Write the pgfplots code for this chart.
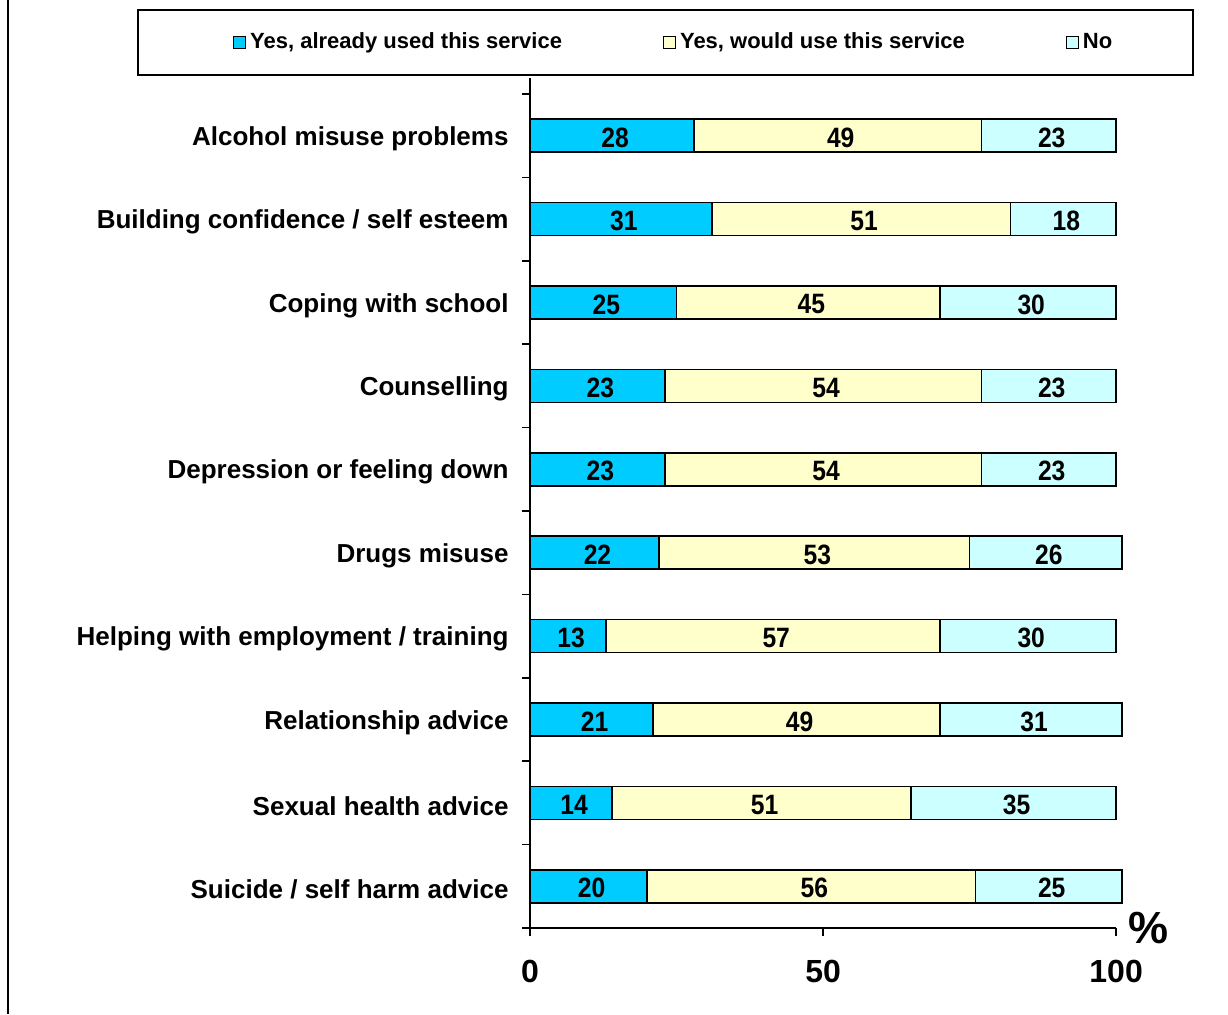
\documentclass[border=0pt]{standalone}
\usepackage{pgfplots}
\pgfplotsset{compat=1.18}
\usepackage{pgfplotstable}
\usepackage{fontspec}
\setmainfont{Liberation Sans}
\newfontfamily\numfont[FakeStretch=0.88]{Liberation Sans}
\definecolor{cBlue}{HTML}{00CCFF}
\definecolor{cYel}{HTML}{FFFFCC}
\definecolor{cCyan}{HTML}{CCFFFF}
\pgfplotstableread{
idx a b c
9 28 49 23
8 31 51 18
7 25 45 30
6 23 54 23
5 23 54 23
4 22 53 26
3 13 57 30
2 21 49 31
1 14 51 35
0 20 56 25
}\datatable
\pgfplotsset{sqleg/.style={legend image code/.code={\draw[##1,draw=black,line width=0.5pt] (0pt,-3pt) rectangle (6pt,3pt);}}}
\begin{document}
\begin{tikzpicture}
\path[use as bounding box] (0,0) rectangle (614pt,507pt);
\draw[line width=1pt] (4pt,0) -- (4pt,507pt);
\draw[line width=1pt] (69pt,469.5pt) rectangle (596.5pt,502pt);
\begin{axis}[
  at={(265pt,43pt)}, anchor=south west,
  scale only axis, width=296pt, height=417pt,
  xbar stacked, bar width=16.5pt,
  xmin=0, xmax=101, ymin=-0.5, ymax=9.5,
  clip=false,
  axis x line*=bottom, axis y line*=left,
  axis line style={draw=none},
  tick align=outside,
  major tick length=4pt,
  every tick/.style={black, line width=0.8pt},
  xtick={0,50,100},
  xticklabel style={font=\fontsize{16}{17}\selectfont\bfseries, yshift=-8.5pt},
  ytick={-0.5,0.5,...,9.5},
  yticklabels={},
  extra y ticks={0,1,2,3,4,5,6,7,8,9},
  extra y tick labels={Suicide / self harm advice, Sexual health advice, Relationship advice, Helping with employment / training, Drugs misuse, Depression or feeling down, Counselling, Coping with school, Building confidence / self esteem, Alcohol misuse problems},
  extra y tick style={major tick length=0pt},
  yticklabel style={font=\fontsize{13}{14}\selectfont\bfseries, xshift=-7.2pt, yshift=-1.5pt},
  /pgf/number format/assume math mode=true,
  point meta=explicit symbolic,
  nodes near coords={\pgfplotspointmeta},
  every node near coord/.append style={font=\numfont\fontsize{14}{15}\selectfont\bfseries, black, anchor=center, yshift=-1pt, xshift=1.5pt},
  legend columns=3,
  legend style={at={(0.2445,1.0617)}, anchor=center, draw=none, fill=none,
    font=\fontsize{11}{12}\selectfont\bfseries,
    /tikz/every even column/.append style={column sep=48.5pt}},
]
\addplot[fill=cBlue, draw=black, line width=0.8pt, sqleg] table[x=a,y=idx,meta=a]{\datatable};
\addplot[fill=cYel, draw=black, line width=0.8pt, sqleg] table[x=b,y=idx,meta=b]{\datatable};
\addplot[fill=cCyan, draw=black, line width=0.8pt, sqleg] table[x=c,y=idx,meta=c]{\datatable};
\legend{{Yes, already used this service}, {Yes, would use this service}, {No}}
\draw[line width=0.8pt] (axis cs:0,-0.5) -- (axis cs:100,-0.5);
\draw[line width=0.8pt] (axis cs:0,-0.5) -- (axis cs:0,9.69);
\end{axis}
\node[anchor=base, font=\fontsize{22.5}{24}\selectfont\bfseries] at (574pt,35.5pt) {\%};
\end{tikzpicture}
\end{document}
